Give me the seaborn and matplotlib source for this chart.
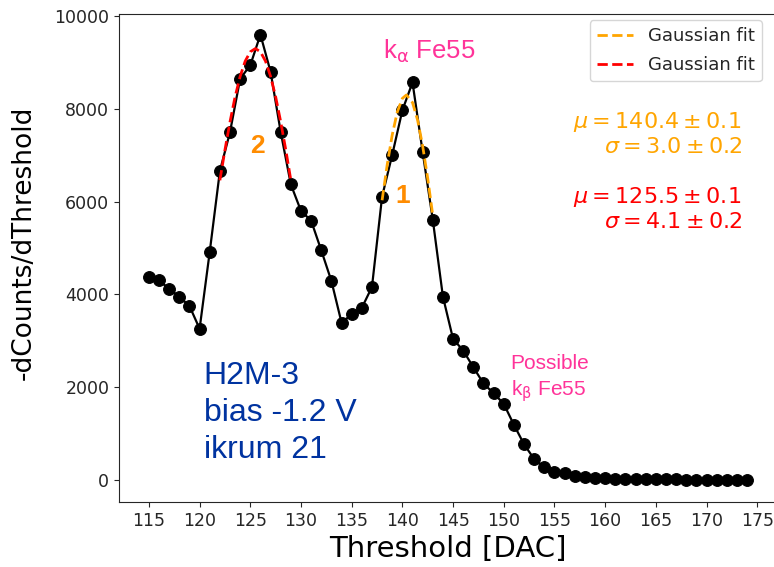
import matplotlib
matplotlib.use("Agg")
import matplotlib.pyplot as plt
import seaborn as sns
import pandas as pd

# ---- data ----
threshold = [115, 116, 117, 118, 119, 120, 121, 122, 123, 124,
             125, 126, 127, 128, 129, 130, 131, 132, 133, 134,
             135, 136, 137, 138, 139, 140, 141, 142, 143, 144,
             145, 146, 147, 148, 149, 150, 151, 152, 153, 154,
             155, 156, 157, 158, 159, 160, 161, 162, 163, 164,
             165, 166, 167, 168, 169, 170, 171, 172, 173, 174]
dcounts = [4370, 4300, 4120, 3950, 3750, 3260, 4920, 6660, 7500, 8650,
           8940, 9600, 8800, 7500, 6370, 5800, 5590, 4950, 4290, 3390,
           3570, 3710, 4160, 6110, 7010, 7970, 8570, 7070, 5610, 3950,
           3040, 2790, 2430, 2080, 1870, 1640, 1190, 770, 450, 270,
           180, 140, 80, 55, 45, 35, 30, 25, 20, 20,
           15, 15, 12, 10, 10, 8, 8, 6, 5, 5]

# Gaussian fit curves
fit1_x = [138, 138.5, 139, 139.5, 140, 140.4, 141, 141.5, 142, 142.5, 143]
fit1_y = [6030, 6790, 7440, 7935, 8226, 8300, 8136, 7760, 7200, 6500, 5700]
fit2_x = [122, 122.5, 123, 123.5, 124, 124.5, 125, 125.5, 126, 126.5, 127, 127.5, 128, 128.5, 129]
fit2_y = [6460, 7115, 7720, 8260, 8700, 9030, 9230, 9300, 9230, 9030, 8700, 8260, 7720, 7115, 6460]

fit_labels = ["Gaussian fit", "Gaussian fit"]
fit1_text = [r"$\mu = 140.4 \pm 0.1$", r"$\sigma = 3.0 \pm 0.2$"]
fit2_text = [r"$\mu = 125.5 \pm 0.1$", r"$\sigma = 4.1 \pm 0.2$"]
x_ticks = [115, 120, 125, 130, 135, 140, 145, 150, 155, 160, 165, 170, 175]
y_ticks = [0, 2000, 4000, 6000, 8000, 10000]

sns.set_style("ticks")

df = pd.DataFrame({"Threshold": threshold, "dC": dcounts})
f1 = pd.DataFrame({"x": fit1_x, "y": fit1_y})
f2 = pd.DataFrame({"x": fit2_x, "y": fit2_y})

fig = plt.figure(figsize=(7.74, 5.67), dpi=100)
ax = fig.add_axes([119 / 774, 65 / 567, 658 / 774, 488 / 567])

sns.lineplot(data=df, x="Threshold", y="dC", ax=ax, color="black",
             linewidth=1.6, marker="o", markersize=8.5,
             markeredgecolor="black", markerfacecolor="black", zorder=2)
sns.lineplot(data=f1, x="x", y="y", ax=ax, color="orange", linestyle="--",
             linewidth=2, label=fit_labels[0], zorder=3)
sns.lineplot(data=f2, x="x", y="y", ax=ax, color="red", linestyle="--",
             linewidth=2, label=fit_labels[1], zorder=3)

ax.set_xlim(112.05, 176.95)
ax.set_ylim(-475, 10045)
ax.set_xticks(x_ticks)
ax.set_yticks(y_ticks)

ax.set_xlabel("Threshold [DAC]", fontsize=21, color="black", labelpad=4)
ax.set_ylabel("-dCounts/dThreshold", fontsize=19, color="black")
ax.yaxis.set_label_coords(-0.125, 0.531)
ax.tick_params(axis="both", labelsize=12.5)

ax.legend(loc="upper right", bbox_to_anchor=(0.9767, 0.9877),
          borderaxespad=0, fontsize=13, frameon=True, labelspacing=0.6)

# annotations
tx = ax.transAxes
ax.text(0.946, 0.766, fit1_text[0], transform=tx, ha="right", va="baseline",
        fontsize=16, color="orange")
ax.text(0.946, 0.715, fit1_text[1], transform=tx, ha="right", va="baseline",
        fontsize=16, color="orange")
ax.text(0.946, 0.612, fit2_text[0], transform=tx, ha="right", va="baseline",
        fontsize=16, color="red")
ax.text(0.946, 0.561, fit2_text[1], transform=tx, ha="right", va="baseline",
        fontsize=16, color="red")

ax.text(138.1, 9095, r"k$_{\mathrm{\alpha}}$ Fe55", ha="left", va="baseline",
        fontsize=18.5, color="#ff3399", family="Liberation Sans")
ax.text(150.67, 1832, "Possible\n" + r"k$_{\mathrm{\beta}}$ Fe55", ha="left",
        va="baseline", fontsize=15, color="#ff3399", family="Liberation Sans",
        linespacing=1.25)
ax.text(140.07, 6131, "1", ha="center", va="center", fontsize=19,
        fontweight="bold", color="darkorange", family="Liberation Sans")
ax.text(125.71, 7198, "2", ha="center", va="center", fontsize=19,
        fontweight="bold", color="darkorange", family="Liberation Sans")
ax.text(120.42, 474, "H2M-3\nbias -1.2 V\nikrum 21", ha="left", va="baseline",
        fontsize=23, color="#0033a0", family="Liberation Sans", linespacing=1.3)

fig.savefig("out.png", dpi=100)
